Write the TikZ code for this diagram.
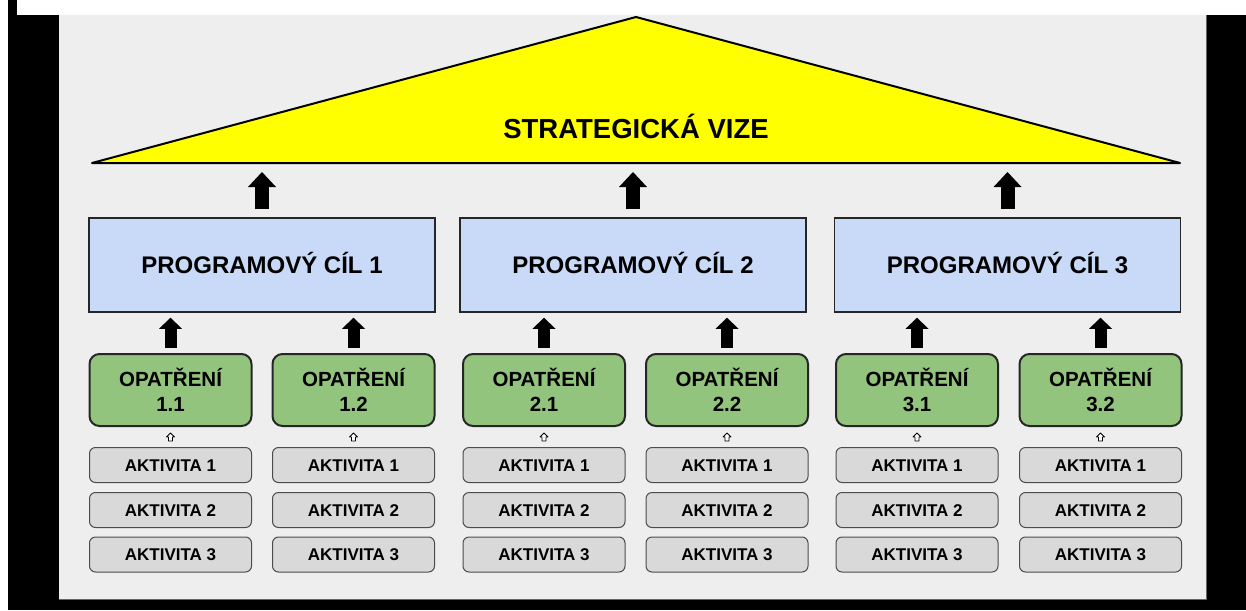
\documentclass[tikz,border=0pt]{standalone}
\usepackage{fontspec}
\setmainfont{Liberation Sans}
\usetikzlibrary{arrows.meta,calc}
\definecolor{panel}{HTML}{EEEEEE}
\definecolor{pcblue}{HTML}{C9DAF8}
\definecolor{opgreen}{HTML}{93C47D}
\definecolor{akgray}{HTML}{D9D9D9}
\definecolor{vizey}{HTML}{FFFF00}
\tikzset{
 pcbox/.style={draw=black!85, line width=1.5pt, fill=pcblue, minimum width=346pt, minimum height=94pt, inner sep=0pt, font=\fontsize{24}{28}\selectfont\bfseries, text height=17pt, text depth=0pt},
 opbox/.style={draw=black!85, line width=2pt, fill=opgreen, rounded corners=10pt, minimum width=162pt, minimum height=72pt, inner sep=0pt, align=center, font=\fontsize{20.5}{25}\selectfont\bfseries},
 akbox/.style={draw=black!70, line width=1pt, fill=akgray, rounded corners=6pt, minimum width=162pt, minimum height=35pt, inner sep=0pt, font=\fontsize{17}{20}\selectfont\bfseries, text height=12.2pt, text depth=0pt},
 vizetext/.style={font=\fontsize{27.5}{30}\selectfont\bfseries, anchor=base, inner sep=0pt},
 bigarrow/.style={line width=14pt, -{Triangle[length=15pt,width=28pt,line width=0pt]}, shorten <=8pt, shorten >=9pt},
 midarrow/.style={line width=12pt, -{Triangle[length=11pt,width=23pt,line width=0pt]}, shorten <=5pt, shorten >=5pt},
 hollowup/.pic={\draw[line width=0.8pt, fill=white, line join=round] (-2,4) -- (-2,0) -- (-4,0) -- (0,-4) -- (4,0) -- (2,0) -- (2,4) -- cycle;}
}
\begin{document}
\begin{tikzpicture}[x=1pt,y=-1pt]
\useasboundingbox (0,0) rectangle (1246,610);
\fill[white] (0,0) rectangle (1246,610);
\fill[black] (8,0) rectangle (1246,610);
\fill[white] (17,0) rectangle (1246,15);
\fill[panel] (59,15) rectangle (1206,599);
\draw[black!60, line width=0.8pt] (1206,15) -- (1206,599) -- (59,599);
% vision roof
\filldraw[fill=vizey, draw=black, line width=2pt, line join=round] (92,163) -- (636,17) -- (1180,163) -- cycle;
\node[vizetext] (vize) at (636,138.5) {STRATEGICKÁ VIZE};
\coordinate (vbase) at (0,163);
% programme goals
\node[pcbox] (pc1) at (262,265) {PROGRAMOVÝ CÍL 1};
\node[pcbox] (pc2) at (633,265) {PROGRAMOVÝ CÍL 2};
\node[pcbox] (pc3) at (1007.5,265) {PROGRAMOVÝ CÍL 3};
\foreach \p in {1,2,3} {
  \draw[bigarrow] (pc\p.north) -- (pc\p.north |- vbase);
}
% measures and activities
\foreach \n/\l/\x/\p in {11/1.1/170.5/1, 12/1.2/353.5/1, 21/2.1/544/2, 22/2.2/727/2, 31/3.1/917/3, 32/3.2/1100.5/3} {
  \node[opbox] (o\n) at (\x,390) {OPATŘENÍ\\\l};
  \draw[midarrow] (o\n.north) -- (o\n.north |- pc\p.south);
  \node[akbox] (a\n-1) at (\x,465) {AKTIVITA 1};
  \node[akbox] (a\n-2) at (\x,510) {AKTIVITA 2};
  \node[akbox] (a\n-3) at (\x,554.5) {AKTIVITA 3};
  \pic at ($(o\n.south)!0.5!(a\n-1.north)$) {hollowup};
}
\end{tikzpicture}
\end{document}
